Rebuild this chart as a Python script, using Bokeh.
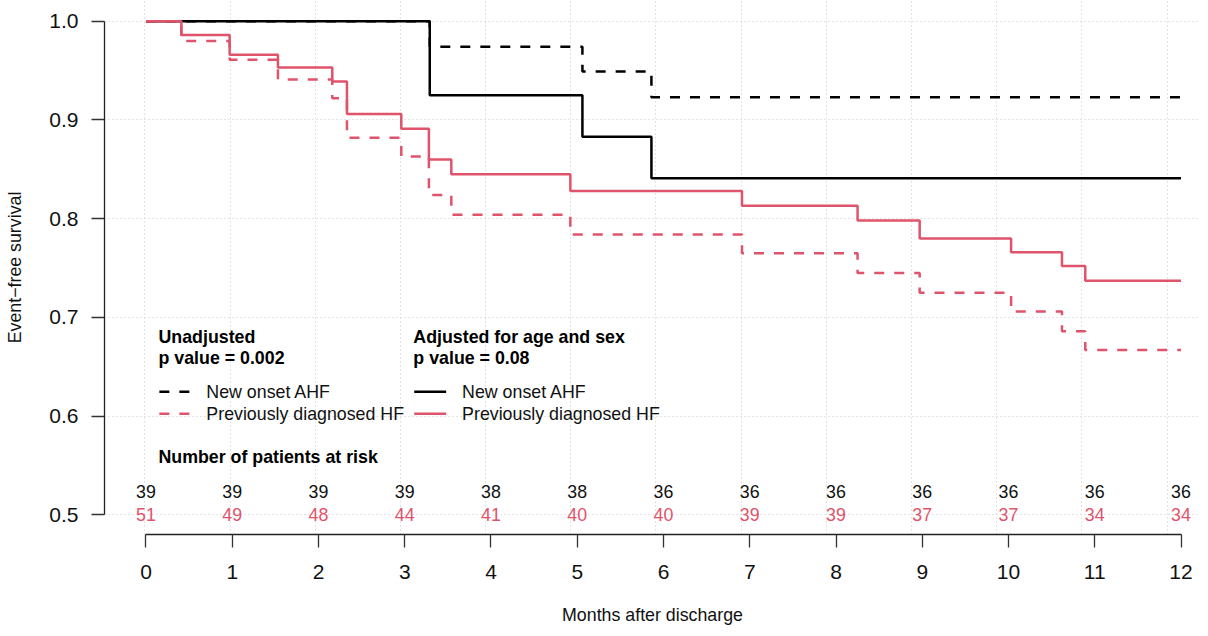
from bokeh.plotting import figure
from bokeh.models import FixedTicker, Range1d, PrintfTickFormatter
from bokeh.embed import file_html
from bokeh.resources import INLINE
from bokeh.core.properties import value

# ---------------- data ----------------
months = [0, 1, 2, 3, 4, 5, 6, 7, 8, 9, 10, 11, 12]
at_risk_new_onset = [39, 39, 39, 39, 38, 38, 36, 36, 36, 36, 36, 36, 36]
at_risk_previous = [51, 49, 48, 44, 41, 40, 40, 39, 39, 37, 37, 34, 34]

new_onset_t = [0, 3.29, 5.06, 5.86, 12]
new_onset_unadj = [1.0, 0.974, 0.949, 0.923, 0.923]
new_onset_adj = [1.0, 0.925, 0.883, 0.841, 0.841]

previous_t = [0, 0.41, 0.97, 1.53, 2.16, 2.33, 2.96, 3.28, 3.54, 4.92,
              6.91, 8.25, 8.97, 10.03, 10.62, 10.89, 12]
previous_unadj = [1.0, 0.980, 0.961, 0.941, 0.922, 0.882, 0.863, 0.824, 0.804,
                  0.784, 0.765, 0.745, 0.725, 0.706, 0.686, 0.667, 0.667]
previous_adj = [1.0, 0.986, 0.966, 0.953, 0.939, 0.906, 0.891, 0.860, 0.845,
                0.828, 0.813, 0.798, 0.780, 0.766, 0.752, 0.737, 0.737]

y_ticks = [0.5, 0.6, 0.7, 0.8, 0.9, 1.0]

x_title = "Months after discharge"
y_title = "Event\u2212free survival"
label_unadj = ["Unadjusted", "p value = 0.002"]
label_adj = ["Adjusted for age and sex", "p value = 0.08"]
series_names = ["New onset AHF", "Previously diagnosed HF"]
risk_title = "Number of patients at risk"

# ---------------- style ----------------
RED = "#DF536B"
BLACK = "#000000"
FONT = value("Liberation Sans")
TXT = "17.8px"
LW = 2.5
DASH = "10 10"

p = figure(width=1200, height=628,
           x_range=Range1d(-0.481, 12.226), y_range=Range1d(0.48005, 1.02097),
           output_backend="svg", toolbar_location=None,
           min_border_left=104, min_border_right=0, min_border_top=0,
           min_border_bottom=94)
p.outline_line_color = None
p.background_fill_color = "white"
p.border_fill_color = "white"

# axes
for ax in (p.xaxis[0], p.yaxis[0]):
    ax.major_tick_in = 0
    ax.major_tick_out = 13
    ax.minor_tick_in = 0
    ax.minor_tick_out = 0
    ax.axis_line_color = "#222222"
    ax.axis_line_width = 1.3
    ax.major_tick_line_color = "#333333"
    ax.major_tick_line_width = 1.3
    ax.major_label_text_font = "Liberation Sans"
    ax.major_label_text_font_size = "21px"
    ax.major_label_text_color = "#111111"
    ax.axis_label_text_font = "Liberation Sans"
    ax.axis_label_text_font_size = TXT
    ax.axis_label_text_font_style = "normal"
    ax.axis_label_text_color = "#111111"

p.xaxis.ticker = FixedTicker(ticks=months)
p.xaxis.bounds = (months[0], months[-1])
p.xaxis.major_label_standoff = 17
p.xaxis.axis_label = x_title
p.xaxis.axis_label_standoff = 23

p.yaxis.ticker = FixedTicker(ticks=y_ticks)
p.yaxis.formatter = PrintfTickFormatter(format="%.1f")
p.yaxis.bounds = (y_ticks[0], y_ticks[-1])
p.yaxis.major_label_standoff = 13
p.yaxis.axis_label = y_title
p.yaxis.axis_label_standoff = 21

# grid (dotted, light grey)
grid_step = 0.9875
p.xgrid.ticker = FixedTicker(ticks=[-0.012 + grid_step * k for k in range(13)])
p.ygrid.ticker = FixedTicker(ticks=y_ticks)
for g in (p.xgrid[0], p.ygrid[0]):
    g.grid_line_color = "#c8c8c8"
    g.grid_line_dash = "1 3"
    g.grid_line_width = 1

# survival curves
p.step(new_onset_t, new_onset_unadj, mode="after", line_color=BLACK,
       line_width=LW, line_dash=DASH)
p.step(new_onset_t, new_onset_adj, mode="after", line_color=BLACK,
       line_width=LW)
p.step(previous_t, previous_unadj, mode="after", line_color=RED,
       line_width=LW, line_dash=DASH)
p.step(previous_t, previous_adj, mode="after", line_color=RED,
       line_width=LW)

# legend blocks (annotation layout)
hx1, hx2 = 0.145, 3.10           # header x positions
hy1, hy2 = 0.6805, 0.6592        # header rows
ly1, ly2 = 0.6247, 0.6024        # legend rows
lseg1 = (0.155, 0.515)
lseg2 = (3.11, 3.48)
tx1, tx2 = 0.70, 3.665

p.text(x=[hx1, hx1], y=[hy1, hy2], text=label_unadj, text_font=FONT,
       text_font_size=TXT, text_font_style="bold", text_align="left",
       text_baseline="middle", text_color=BLACK)
p.text(x=[hx2, hx2], y=[hy1, hy2], text=label_adj, text_font=FONT,
       text_font_size=TXT, text_font_style="bold", text_align="left",
       text_baseline="middle", text_color=BLACK)

p.line(list(lseg1), [ly1, ly1], line_color=BLACK, line_width=LW, line_dash=DASH)
p.line(list(lseg1), [ly2, ly2], line_color=RED, line_width=LW, line_dash=DASH)
p.line(list(lseg2), [ly1, ly1], line_color=BLACK, line_width=LW)
p.line(list(lseg2), [ly2, ly2], line_color=RED, line_width=LW)

for tx in (tx1, tx2):
    p.text(x=[tx, tx], y=[ly1, ly2], text=series_names, text_font=FONT,
           text_font_size=TXT, text_align="left", text_baseline="middle",
           text_color="#111111")

p.text(x=[hx1], y=[0.5588], text=[risk_title], text_font=FONT,
       text_font_size=TXT, text_font_style="bold", text_align="left",
       text_baseline="middle", text_color=BLACK)

# numbers at risk
p.text(x=months, y=[0.5233] * len(months), text=[str(v) for v in at_risk_new_onset],
       text_font=FONT, text_font_size=TXT, text_align="center",
       text_baseline="middle", text_color="#111111")
p.text(x=months, y=[0.5] * len(months), text=[str(v) for v in at_risk_previous],
       text_font=FONT, text_font_size=TXT, text_align="center",
       text_baseline="middle", text_color=RED)

open("out.html", "w").write(file_html(p, INLINE))
